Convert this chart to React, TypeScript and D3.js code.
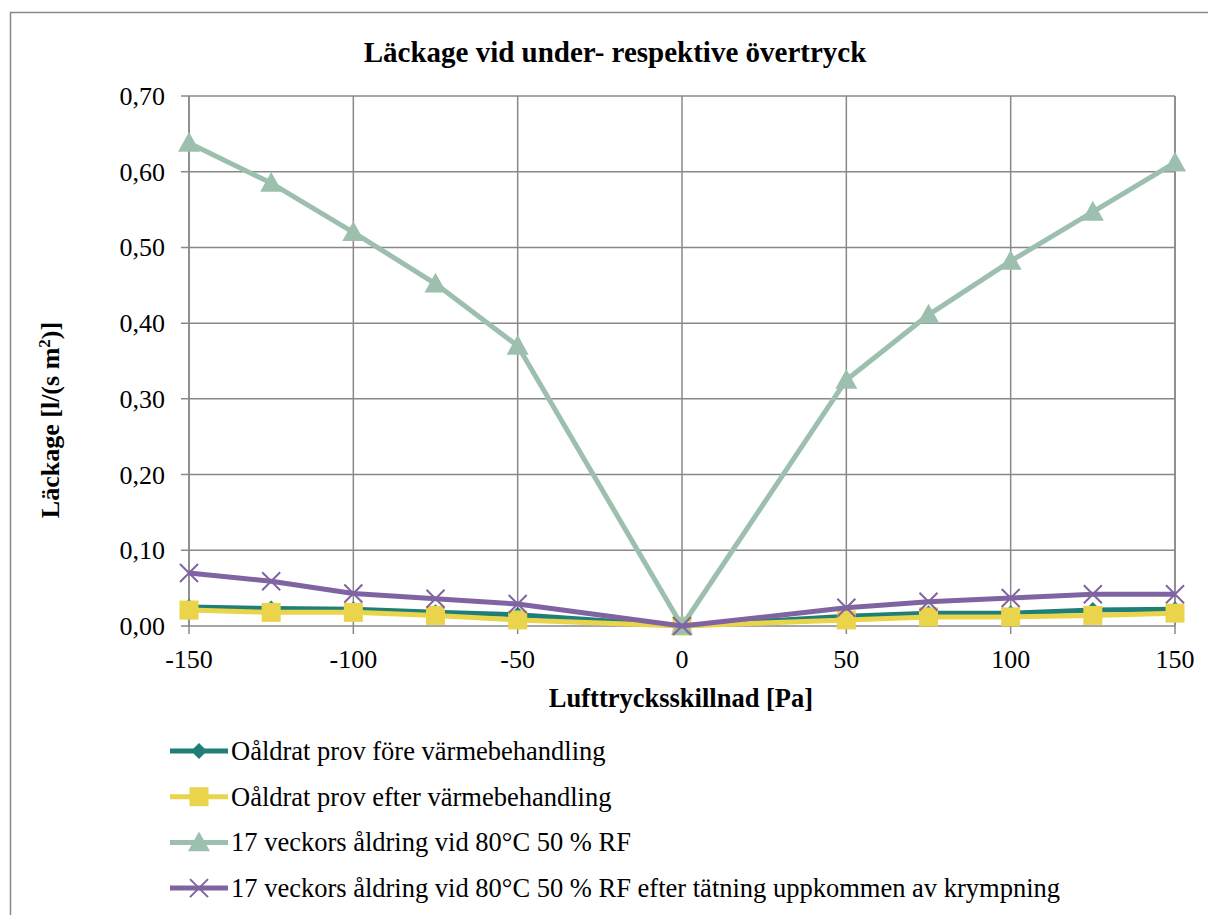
import React from "react";
import * as d3 from "d3";

const xValues = [-150, -125, -100, -75, -50, 0, 50, 75, 100, 125, 150];
const seriesNames = [
  "Oåldrat prov före värmebehandling",
  "Oåldrat prov efter värmebehandling",
  "17 veckors åldring vid 80°C 50 % RF",
  "17 veckors åldring vid 80°C 50 % RF efter tätning uppkommen av krympning",
];
const tealValues = [0.025, 0.023, 0.022, 0.018, 0.015, 0, 0.013, 0.017, 0.017, 0.021, 0.022];
const yellowValues = [0.021, 0.018, 0.018, 0.014, 0.008, 0, 0.008, 0.012, 0.012, 0.014, 0.017];
const greenValues = [0.638, 0.585, 0.52, 0.452, 0.37, 0, 0.325, 0.411, 0.482, 0.547, 0.612];
const purpleValues = [0.07, 0.059, 0.043, 0.036, 0.029, 0, 0.024, 0.032, 0.037, 0.042, 0.042];
const xTicks = [-150, -100, -50, 0, 50, 100, 150];
const yTicks = [0, 0.1, 0.2, 0.3, 0.4, 0.5, 0.6, 0.7];

const colors = ["#1F7F78", "#E9D44C", "#9CBFAE", "#8064A2"];
const markers = ["diamond", "square", "triangle", "x"];
const allValues = [tealValues, yellowValues, greenValues, purpleValues];

const FS = { fontFamily: "Liberation Serif" };

function Marker({ kind, x, y, color }: { kind: string; x: number; y: number; color: string }) {
  if (kind === "diamond") {
    const s = 8;
    return <path d={`M${x},${y - s}L${x + s},${y}L${x},${y + s}L${x - s},${y}Z`} fill={color} />;
  }
  if (kind === "square") {
    const s = 9.5;
    return <rect x={x - s} y={y - s} width={2 * s} height={2 * s} fill={color} />;
  }
  if (kind === "triangle") {
    const s = 11;
    return <path d={`M${x},${y - s}L${x + s},${y + s * 0.8}L${x - s},${y + s * 0.8}Z`} fill={color} />;
  }
  const s = 9;
  return (
    <path
      d={`M${x - s},${y - s}L${x + s},${y + s}M${x - s},${y + s}L${x + s},${y - s}`}
      stroke={color}
      strokeWidth={2}
    />
  );
}

export default function App() {
  const W = 1208;
  const H = 915;
  const left = 189, right = 1175, top = 96, bottom = 626;
  const x = d3.scaleLinear().domain([-150, 150]).range([left, right]);
  const y = d3.scaleLinear().domain([0, 0.7]).range([bottom, top]);
  const line = d3
    .line<number>()
    .x((_, i) => x(xValues[i]))
    .y((d) => y(d));
  const fmt = (v: number) => v.toFixed(2).replace(".", ",");

  return (
    <svg width={W} height={H} style={{ position: "absolute", left: 0, top: 0 }}>
      <rect x={0} y={0} width={W} height={H} fill="#fff" />
      <rect x={10.5} y={12.5} width={W + 10} height={H + 10} fill="none" stroke="#888" strokeWidth={1.5} />
      <text x={615} y={62} textAnchor="middle" fontSize={29} fontWeight="bold" style={FS}>
        Läckage vid under- respektive övertryck
      </text>
      {/* grid */}
      {yTicks.map((t) => (
        <line key={"gy" + t} x1={left - 8} x2={right} y1={y(t)} y2={y(t)} stroke="#888" strokeWidth={1.5} />
      ))}
      {xTicks.map((t) => (
        <line key={"gx" + t} x1={x(t)} x2={x(t)} y1={top} y2={bottom + 8} stroke="#888" strokeWidth={1.5} />
      ))}
      <line x1={left} x2={left} y1={top} y2={bottom} stroke="#888" strokeWidth={1.5} />
      <line x1={right} x2={right} y1={top} y2={bottom} stroke="#888" strokeWidth={1.5} />
      {yTicks.map((t) => (
        <text key={"ty" + t} x={left - 24} y={y(t) + 9} textAnchor="end" fontSize={26} style={FS}>
          {fmt(t)}
        </text>
      ))}
      {xTicks.map((t) => (
        <text key={"tx" + t} x={x(t)} y={bottom + 42} textAnchor="middle" fontSize={26} style={FS}>
          {t}
        </text>
      ))}
      <text x={681} y={707} textAnchor="middle" fontSize={26.5} fontWeight="bold" style={FS}>
        Lufttrycksskillnad [Pa]
      </text>
      <text
        transform={`translate(59,${(top + bottom) / 2 + 59}) rotate(-90)`}
        textAnchor="middle"
        fontSize={26}
        fontWeight="bold"
        style={FS}
      >
        Läckage [l/(s m<tspan baselineShift="super" fontSize={17}>2</tspan>)]
      </text>
      {/* series */}
      {allValues.map((vals, si) => (
        <g key={"s" + si}>
          <path d={line(vals) || ""} fill="none" stroke={colors[si]} strokeWidth={5} strokeLinejoin="round" />
          {vals.map((v, i) => (
            <Marker key={i} kind={markers[si]} x={x(xValues[i])} y={y(v)} color={colors[si]} />
          ))}
        </g>
      ))}
      {/* legend */}
      {seriesNames.map((name, i) => {
        const ly = 751 + i * 45.7;
        return (
          <g key={"l" + i}>
            <line x1={170} x2={228} y1={ly} y2={ly} stroke={colors[i]} strokeWidth={5} />
            <Marker kind={markers[i]} x={199} y={ly} color={colors[i]} />
            <text x={231} y={ly + 9} fontSize={26.5} style={FS}>
              {name}
            </text>
          </g>
        );
      })}
    </svg>
  );
}
